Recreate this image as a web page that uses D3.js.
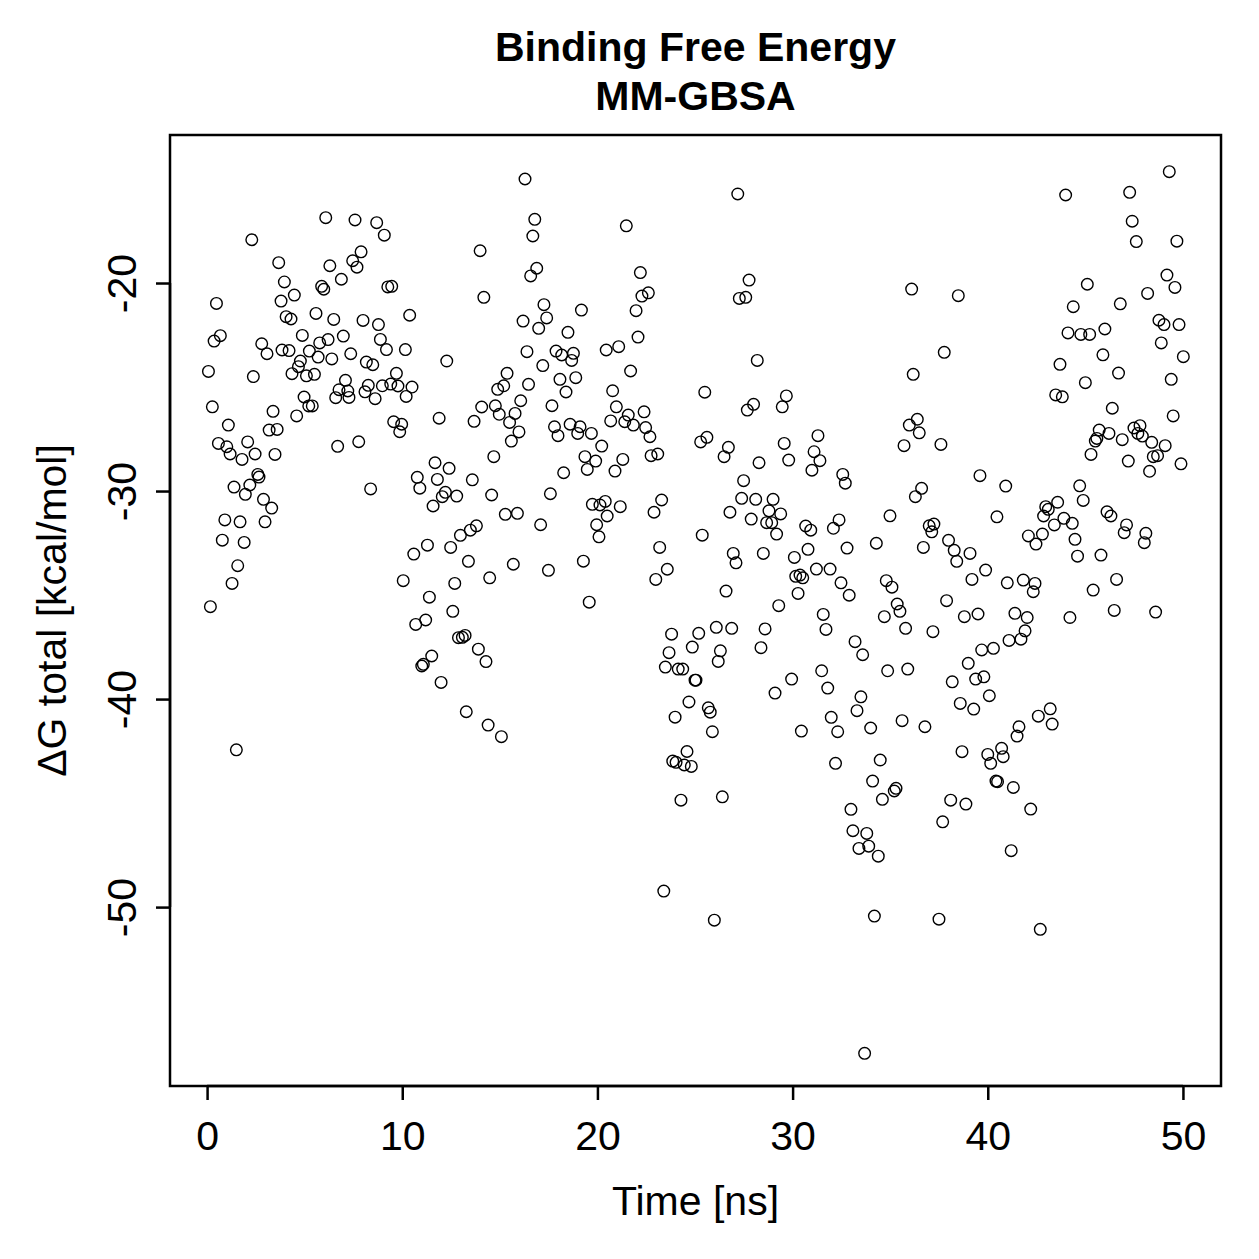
<!DOCTYPE html>
<html>
<head>
<meta charset="utf-8">
<script src="https://cdn.jsdelivr.net/npm/d3@7"></script>
<style>
  html, body { margin: 0; padding: 0; background: #fff; }
  svg text { font-family: "Liberation Sans", Arial, Helvetica, sans-serif; fill: #000; }
</style>
</head>
<body>
<svg id="chart" width="1259" height="1259"></svg>
<script>
// time [ns]
const time = [
  0.07,0.17,0.27,0.36,0.48,0.58,0.68,0.78,0.91,1.01,1.09,1.18,1.28,1.38,1.50,1.57,1.69,1.79,1.90,1.96,
  2.08,2.19,2.29,2.37,2.46,2.60,2.66,2.80,2.89,2.97,3.07,3.18,3.31,3.38,3.48,3.59,3.67,3.79,3.84,3.96,
  4.05,4.20,4.30,4.35,4.47,4.59,4.68,4.78,4.88,4.97,5.09,5.21,5.24,5.39,5.50,5.58,5.69,5.77,5.87,5.98,
  6.08,6.20,6.29,6.39,6.49,6.59,6.69,6.76,6.88,6.98,7.09,7.21,7.27,7.36,7.46,7.58,7.68,7.77,7.89,7.99,
  8.09,8.16,8.26,8.38,8.49,8.61,8.69,8.78,8.88,8.98,9.08,9.19,9.26,9.41,9.46,9.56,9.70,9.78,9.87,9.97,
  10.05,10.16,10.20,10.38,10.50,10.59,10.69,10.77,10.90,11.00,11.08,11.20,11.29,11.39,11.51,11.58,11.68,11.80,11.89,11.99,
  12.05,12.21,12.28,12.40,12.48,12.59,12.69,12.79,12.88,12.98,13.08,13.22,13.28,13.39,13.49,13.59,13.68,13.80,13.90,13.99,
  14.07,14.18,14.29,14.40,14.48,14.58,14.69,14.77,14.89,14.97,15.08,15.20,15.28,15.37,15.50,15.59,15.69,15.78,15.90,15.98,
  16.07,16.19,16.29,16.39,16.47,16.58,16.69,16.79,16.89,16.99,17.09,17.20,17.26,17.40,17.49,17.59,17.67,17.80,17.88,17.98,
  18.08,18.17,18.27,18.39,18.49,18.60,18.68,18.77,18.89,18.99,19.11,19.18,19.28,19.36,19.48,19.58,19.69,19.74,19.91,19.96,
  20.08,20.13,20.22,20.40,20.50,20.45,20.68,20.78,20.90,20.97,21.09,21.17,21.30,21.40,21.48,21.58,21.70,21.84,21.98,22.08,
  22.20,22.28,22.39,22.47,22.61,22.69,22.75,22.90,22.99,23.09,23.19,23.29,23.40,23.48,23.58,23.67,23.80,23.86,23.98,24.03,
  24.14,24.28,24.37,24.45,24.59,24.69,24.81,24.86,25.00,25.05,25.19,25.29,25.37,25.50,25.61,25.68,25.78,25.89,25.99,26.09,
  26.19,26.30,26.40,26.49,26.59,26.71,26.79,26.88,26.96,27.10,27.19,27.27,27.39,27.49,27.60,27.68,27.77,27.88,28.00,28.11,
  28.19,28.28,28.38,28.50,28.59,28.67,28.79,28.93,29.00,29.10,29.18,29.29,29.39,29.47,29.57,29.68,29.80,29.95,30.09,30.16,
  30.28,30.38,30.52,30.45,30.67,30.79,30.93,30.99,31.10,31.22,31.30,31.40,31.49,31.57,31.71,31.80,31.92,31.98,32.09,32.20,
  32.31,32.38,32.48,32.57,32.70,32.79,32.90,32.99,33.09,33.20,33.30,33.40,33.50,33.59,33.69,33.80,33.90,34.00,34.10,34.19,
  34.29,34.39,34.49,34.60,34.70,34.80,34.87,34.99,35.09,35.21,35.30,35.36,35.50,35.61,35.71,35.79,35.90,35.98,36.10,36.18,
  36.29,36.39,36.49,36.61,36.70,36.78,37.00,37.13,37.19,37.24,37.50,37.60,37.69,37.77,37.89,37.99,38.10,38.18,38.28,38.41,
  38.49,38.59,38.68,38.80,38.88,39.00,39.09,39.19,39.28,39.38,39.50,39.60,39.69,39.80,39.89,40.00,40.08,40.15,40.29,40.42,
  40.50,40.47,40.71,40.79,40.92,41.00,41.09,41.20,41.31,41.39,41.50,41.60,41.70,41.82,41.91,42.02,42.08,42.20,42.33,42.42,
  42.47,42.59,42.69,42.80,42.86,42.97,43.10,43.20,43.30,43.41,43.48,43.58,43.70,43.82,43.90,43.99,44.11,44.21,44.33,44.38,
  44.47,44.60,44.71,44.77,44.89,45.00,45.10,45.22,45.29,45.40,45.51,45.59,45.71,45.80,45.90,46.00,46.11,46.21,46.31,46.38,
  46.48,46.60,46.70,46.79,46.89,46.99,47.11,47.20,47.27,47.40,47.49,47.61,47.69,47.80,47.92,48.02,48.10,48.19,48.29,48.40,
  48.48,48.60,48.70,48.77,48.89,49.03,49.09,49.18,49.30,49.40,49.50,49.59,49.69,49.80,49.90,50.02
];

// ΔG total [kcal/mol]
const deltaG = [
  -24.25,-35.56,-25.95,-22.79,-20.98,-27.71,-22.53,-32.36,-31.39,-27.87,-26.83,-28.22,-34.44,-29.81,-42.44,-33.59,-31.48,-28.48,-32.47,-30.16,
  -27.64,-29.71,-17.92,-24.50,-28.22,-29.20,-29.33,-22.92,-30.40,-31.48,-23.40,-27.07,-30.82,-26.17,-28.24,-27.04,-19.02,-20.87,-23.22,-19.95,
  -21.62,-23.25,-21.73,-24.36,-20.58,-26.39,-24.02,-23.75,-22.52,-25.48,-24.46,-25.91,-23.27,-25.91,-24.39,-21.46,-23.56,-22.88,-20.16,-20.30,
  -16.86,-22.72,-19.17,-23.65,-21.75,-25.51,-27.85,-25.13,-19.82,-22.55,-24.68,-25.19,-25.50,-23.40,-18.93,-16.97,-19.24,-27.63,-18.50,-21.80,
  -25.23,-23.80,-24.92,-29.90,-23.93,-25.56,-17.10,-22.00,-22.71,-24.94,-17.70,-23.20,-20.19,-24.86,-20.16,-26.67,-24.34,-24.95,-27.15,-26.79,
  -34.31,-23.20,-25.45,-21.55,-25.00,-33.03,-36.41,-29.34,-29.86,-38.41,-38.33,-36.20,-32.60,-35.10,-37.93,-30.72,-28.64,-29.44,-26.50,-39.20,
  -30.27,-30.06,-23.75,-28.91,-32.71,-35.78,-34.44,-30.24,-37.05,-32.13,-37.03,-36.94,-40.61,-33.38,-31.88,-29.46,-26.65,-31.67,-37.60,-18.45,
  -25.96,-20.69,-38.20,-41.25,-34.17,-30.19,-28.35,-25.90,-25.11,-26.31,-41.81,-24.94,-31.12,-24.34,-26.70,-27.60,-33.52,-26.27,-31.07,-27.16,
  -25.66,-21.83,-15.00,-23.30,-24.87,-19.66,-17.74,-16.94,-19.29,-22.18,-31.62,-23.97,-21.04,-21.68,-33.81,-30.13,-25.90,-26.91,-23.27,-27.34,
  -24.63,-23.46,-29.12,-25.24,-22.37,-26.79,-23.72,-23.38,-24.55,-27.23,-26.91,-21.30,-33.37,-28.35,-28.96,-35.34,-27.23,-30.64,-28.56,-31.62,
  -32.20,-30.67,-27.84,-30.50,-31.20,-23.22,-26.63,-25.18,-29.04,-25.95,-23.06,-30.75,-28.48,-26.67,-17.25,-26.35,-24.23,-26.83,-21.33,-22.60,
  -19.50,-20.63,-26.19,-26.95,-20.47,-27.39,-28.30,-31.02,-34.25,-28.22,-32.71,-30.43,-49.23,-38.46,-33.76,-37.77,-36.88,-42.98,-40.87,-43.04,
  -38.56,-44.86,-38.56,-43.17,-42.52,-40.14,-43.24,-37.50,-39.09,-39.09,-36.84,-27.64,-32.12,-25.25,-27.42,-40.42,-40.63,-41.57,-50.63,-36.55,
  -38.19,-37.68,-44.70,-28.35,-34.81,-27.90,-31.02,-36.60,-33.00,-33.45,-15.72,-20.74,-30.35,-29.50,-20.69,-26.11,-19.86,-31.35,-25.83,-30.40,
  -23.72,-28.64,-37.53,-33.00,-36.63,-31.52,-30.95,-31.52,-30.40,-39.71,-32.07,-35.51,-31.10,-25.95,-27.71,-25.43,-28.51,-39.04,-33.19,-34.10,
  -34.92,-34.04,-34.17,-41.54,-31.68,-32.80,-31.88,-29.00,-28.11,-33.75,-27.34,-28.54,-38.64,-35.93,-36.65,-39.47,-33.75,-40.88,-31.79,-43.09,
  -41.57,-31.39,-34.41,-29.20,-29.62,-32.74,-35.01,-45.30,-46.33,-37.24,-40.56,-47.18,-39.89,-37.87,-57.03,-46.46,-47.07,-41.39,-43.94,-50.43,
  -32.51,-47.55,-42.93,-44.82,-36.04,-34.31,-38.64,-31.19,-34.62,-44.42,-44.29,-35.43,-35.78,-41.04,-27.82,-36.60,-38.56,-26.83,-20.29,-24.39,
  -30.27,-26.55,-27.20,-29.87,-32.71,-41.33,-31.67,-31.96,-36.76,-31.59,-50.58,-27.76,-45.90,-23.33,-35.27,-32.37,-44.86,-39.17,-32.85,-33.38,
  -20.61,-40.21,-42.53,-36.04,-45.05,-38.28,-33.00,-34.25,-40.48,-39.04,-35.91,-29.26,-37.64,-38.93,-33.80,-42.66,-39.84,-43.09,-37.56,-43.94,
  -43.97,-31.24,-42.37,-42.77,-29.76,-34.41,-37.18,-47.29,-44.25,-35.88,-41.78,-41.33,-37.12,-34.28,-36.72,-36.08,-32.16,-45.29,-34.84,-34.44,
  -32.55,-40.82,-51.07,-32.07,-31.20,-30.75,-30.88,-40.47,-41.20,-31.63,-25.38,-30.54,-23.91,-25.47,-31.31,-15.77,-22.40,-36.08,-31.55,-21.14,
  -32.32,-33.13,-29.75,-22.47,-30.45,-24.79,-20.06,-22.47,-28.24,-34.76,-27.60,-27.47,-27.07,-33.08,-23.45,-22.21,-31.00,-27.23,-31.20,-26.02,
  -35.74,-34.25,-24.33,-21.00,-27.53,-32.00,-31.63,-28.56,-15.64,-17.03,-26.97,-18.01,-27.23,-26.86,-27.36,-32.48,-32.03,-20.50,-29.05,-27.66,
  -28.35,-35.82,-28.30,-21.79,-22.88,-22.00,-27.82,-19.62,-14.65,-24.63,-26.39,-20.21,-17.99,-22.00,-28.69,-23.54
];

const xTicks = [0, 10, 20, 30, 40, 50];
const yTicks = [-20, -30, -40, -50];
const titleLines = ["Binding Free Energy", "MM-GBSA"];

const points = time.map((t, i) => ({ t: t, g: deltaG[i] }));

const svg = d3.select("#chart");
const plotLeft = 170, plotRight = 1221, plotTop = 135, plotBottom = 1086;
const fontSize = "41px";

const x = d3.scaleLinear().domain([-1.9, 51.95]).range([plotLeft, plotRight]);
const y = d3.scaleLinear().domain([-58.6, -12.885]).range([plotBottom, plotTop]);

// plot box
svg.append("rect")
  .attr("x", plotLeft).attr("y", plotTop)
  .attr("width", plotRight - plotLeft).attr("height", plotBottom - plotTop)
  .attr("fill", "none").attr("stroke", "#000").attr("stroke-width", 2.5);

// x axis (plain hyphen minus, like R)
const xAxis = svg.append("g")
  .attr("transform", `translate(0,${plotBottom})`)
  .call(d3.axisBottom(x).tickValues(xTicks).tickSize(14).tickPadding(21).tickFormat(d => String(d)));
xAxis.select(".domain")
  .attr("d", `M${x(0)},0H${x(50)}`).attr("stroke-width", 2.5);
xAxis.selectAll(".tick line").attr("stroke-width", 2.5);
xAxis.selectAll(".tick text")
  .style("font-size", fontSize)
  .style("font-family", '"Liberation Sans", Arial, sans-serif');

// y axis
const yAxis = svg.append("g")
  .attr("transform", `translate(${plotLeft},0)`)
  .call(d3.axisLeft(y).tickValues(yTicks).tickSize(14).tickFormat(d => String(d)));
yAxis.select(".domain")
  .attr("d", `M0,${y(-20)}V${y(-50)}`).attr("stroke-width", 2.5);
yAxis.selectAll(".tick line").attr("stroke-width", 2.5);
yAxis.selectAll(".tick text")
  .attr("x", 0).attr("dy", 0)
  .attr("text-anchor", "middle")
  .attr("transform", "translate(-34,0) rotate(-90)")
  .style("font-size", fontSize)
  .style("font-family", '"Liberation Sans", Arial, sans-serif');

// points
svg.append("g")
  .selectAll("circle")
  .data(points)
  .enter()
  .append("circle")
  .attr("cx", d => x(d.t))
  .attr("cy", d => y(d.g))
  .attr("r", 5.8)
  .attr("fill", "none")
  .attr("stroke", "#000")
  .attr("stroke-width", 1.4);

// title
svg.append("g").selectAll("text")
  .data(titleLines)
  .enter()
  .append("text")
  .attr("x", (plotLeft + plotRight) / 2)
  .attr("y", (d, i) => 61 + i * 49)
  .attr("text-anchor", "middle")
  .style("font-size", fontSize)
  .style("font-weight", "bold")
  .text(d => d);

// axis labels
svg.append("text")
  .attr("x", (plotLeft + plotRight) / 2)
  .attr("y", 1215)
  .attr("text-anchor", "middle")
  .style("font-size", fontSize)
  .text("Time [ns]");

svg.append("text")
  .attr("transform", `translate(66,${(plotTop + plotBottom) / 2}) rotate(-90)`)
  .attr("text-anchor", "middle")
  .style("font-size", fontSize)
  .text("ΔG total [kcal/mol]");
</script>
</body>
</html>
